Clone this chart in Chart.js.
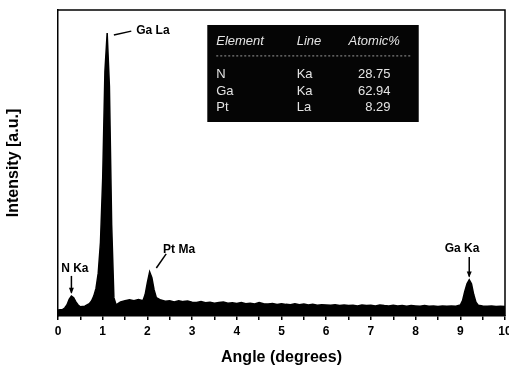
<!DOCTYPE html>
<html>
<head>
<meta charset="utf-8">
<script src="https://cdn.jsdelivr.net/npm/chart.js@4/dist/chart.umd.min.js"></script>
<style>
  html, body { margin: 0; padding: 0; background: #fff; }
  #wrap { width: 509px; height: 367px; }
</style>
</head>
<body>
<div id="wrap"><canvas id="eds-chart" width="509" height="367"></canvas></div>
<script>
// spectrum (x in degrees, y in a.u. with 100 = top of frame)
const angles = [
  0.0, 0.1, 0.15, 0.2, 0.25, 0.3, 0.35, 0.4, 0.45, 0.5, 0.55, 0.6, 0.65, 0.7, 0.75,
  0.8, 0.85, 0.9, 0.95, 1.0, 1.05, 1.1, 1.15, 1.2, 1.25, 1.3, 1.35, 1.4, 1.5, 1.6,
  1.7, 1.8, 1.9, 1.95, 2.0, 2.05, 2.1, 2.15, 2.2, 2.25, 2.3, 2.4, 2.5,
  2.6, 2.7, 2.8, 2.9, 3.0, 3.1, 3.2, 3.3, 3.4, 3.5, 3.6, 3.7, 3.8, 3.9,
  4.0, 4.1, 4.2, 4.3, 4.4, 4.5, 4.6, 4.7, 4.8, 4.9, 5.0, 5.1, 5.2, 5.3, 5.4, 5.5,
  5.6, 5.7, 5.8, 5.9, 6.0, 6.1, 6.2, 6.3, 6.4, 6.5, 6.6, 6.7, 6.8, 6.9, 7.0, 7.1,
  7.2, 7.3, 7.4, 7.5, 7.6, 7.7, 7.8, 7.9, 8.0, 8.1, 8.2, 8.3, 8.4, 8.5, 8.6, 8.7,
  8.8, 8.9, 9.0, 9.05, 9.1, 9.15, 9.2, 9.25, 9.3, 9.35, 9.4, 9.5, 9.6, 9.7, 9.8,
  9.9, 10.0
];
const intensity = [
  2.0, 2.1, 2.6, 3.6, 5.4, 6.5, 6.0, 4.6, 3.6, 3.0, 3.1, 3.2, 3.6, 4.0, 4.9,
  6.5, 9.0, 14.0, 24.0, 45.0, 80.0, 92.5, 75.0, 30.0, 6.0, 3.6, 4.1, 4.6, 5.0, 5.3,
  5.0, 5.4, 5.0, 7.0, 11.0, 14.4, 12.5, 8.5, 6.0, 5.6, 5.2, 4.8, 5.0,
  4.6, 5.0, 4.7, 4.9, 4.5, 4.4, 4.7, 4.3, 4.5, 4.2, 4.4, 4.6, 4.2, 4.3,
  4.1, 4.4, 4.0, 4.2, 3.9, 4.4, 4.0, 3.9, 4.1, 3.8, 4.0, 3.8, 3.7, 4.0, 3.7, 3.9,
  3.6, 3.8, 3.5, 3.7, 3.6, 3.5, 3.7, 3.4, 3.6, 3.4, 3.5, 3.3, 3.6, 3.4, 3.5, 3.3,
  3.6, 3.4, 3.3, 3.5, 3.3, 3.4, 3.2, 3.4, 3.3, 3.2, 3.4, 3.2, 3.3, 3.1, 3.3, 3.2,
  3.3, 3.2, 3.6, 5.0, 8.0, 10.5, 11.8, 10.5, 7.0, 4.5, 3.5, 3.3, 3.2, 3.3, 3.1,
  3.2, 3.1
];
const tickLabels = ["0", "1", "2", "3", "4", "5", "6", "7", "8", "9", "10"];

// peak labels: text, text anchor, pointer start/end, arrow head?
const peakLabels = [
  { text: "Ga La", x: 1.75, y: 93.1, from: [1.25, 91.8], to: [1.64, 93.1], arrow: false },
  { text: "N Ka", x: 0.07, y: 15.4, from: [0.3, 13.1], to: [0.3, 7.6], arrow: true },
  { text: "Pt Ma", x: 2.35, y: 21.6, from: [2.2, 15.7], to: [2.42, 20.3], arrow: false },
  { text: "Ga Ka", x: 8.65, y: 21.9, from: [9.2, 19.3], to: [9.2, 12.9], arrow: true }
];

// inset table
const tableHead = ["Element", "Line", "Atomic%"];
const tableElements = ["N", "Ga", "Pt"];
const tableLines = ["Ka", "Ka", "La"];
const tableAtomic = ["28.75", "62.94", "8.29"];

const points = angles.map((a, i) => ({ x: a, y: intensity[i] }));

const overlay = {
  id: "overlay",
  afterDraw(chart) {
    const ctx = chart.ctx;
    const xs = chart.scales.x;
    const ys = chart.scales.y;
    const area = chart.chartArea;
    const px = v => xs.getPixelForValue(v);
    const py = v => ys.getPixelForValue(v);
    ctx.save();

    // frame top and right
    ctx.strokeStyle = "#000";
    ctx.lineWidth = 1.5;
    ctx.beginPath();
    ctx.moveTo(area.left, area.top);
    ctx.lineTo(area.right, area.top);
    ctx.lineTo(area.right, area.bottom);
    ctx.stroke();

    // peak labels
    ctx.font = "bold 12px 'Liberation Sans', Arial, sans-serif";
    ctx.fillStyle = "#000";
    ctx.textBaseline = "middle";
    ctx.textAlign = "left";
    peakLabels.forEach(p => {
      ctx.fillText(p.text, px(p.x), py(p.y));
      const x1 = px(p.from[0]), y1 = py(p.from[1]);
      const x2 = px(p.to[0]), y2 = py(p.to[1]);
      ctx.lineWidth = 1.5;
      ctx.beginPath();
      ctx.moveTo(x1, y1);
      ctx.lineTo(x2, y2);
      ctx.stroke();
      if (p.arrow) {
        ctx.beginPath();
        ctx.moveTo(x2, y2 + 1);
        ctx.lineTo(x2 - 2.5, y2 - 5);
        ctx.lineTo(x2 + 2.5, y2 - 5);
        ctx.closePath();
        ctx.fill();
      }
    });

    // inset table
    const left = px(3.34), right = px(8.07), top = py(95.1), bottom = py(63.4);
    ctx.fillStyle = "#050505";
    ctx.fillRect(left, top, right - left, bottom - top);
    ctx.fillStyle = "#e4e4e4";
    ctx.font = "italic 13px 'Liberation Sans', Arial, sans-serif";
    ctx.textAlign = "left";
    ctx.fillText(tableHead[0], px(3.54), py(89.9));
    ctx.fillText(tableHead[1], px(5.34), py(89.9));
    ctx.fillText(tableHead[2], px(6.5), py(89.9));
    ctx.strokeStyle = "#9a9a9a";
    ctx.lineWidth = 1;
    ctx.setLineDash([2, 2]);
    ctx.beginPath();
    ctx.moveTo(px(3.54), py(85));
    ctx.lineTo(px(7.9), py(85));
    ctx.stroke();
    ctx.setLineDash([]);
    ctx.font = "13px 'Liberation Sans', Arial, sans-serif";
    const rowY = [79.1, 73.3, 68.0];
    tableElements.forEach((el, i) => {
      ctx.textAlign = "left";
      ctx.fillText(el, px(3.54), py(rowY[i]));
      ctx.fillText(tableLines[i], px(5.34), py(rowY[i]));
      ctx.textAlign = "right";
      ctx.fillText(tableAtomic[i], px(7.44), py(rowY[i]));
    });
    ctx.restore();
  }
};

const SPEC = document.getElementById("eds-chart");

let edsChart = new Chart(SPEC, {
  type: "line",
  data: {
    datasets: [
      {
        label: "EDS",
        data: points,
        borderColor: "#000",
        backgroundColor: "#000",
        borderWidth: 1.5,
        fill: "origin",
        pointRadius: 0,
        tension: 0,
      },
    ],
  },
  options: {
    responsive: false,
    animation: false,
    layout: { autoPadding: false, padding: { top: 10, right: 4, left: 0, bottom: 0 } },
    plugins: { legend: { display: false }, tooltip: { enabled: false } },
    scales: {
      x: {
        type: "linear",
        min: 0,
        max: 10,
        afterFit: s => { s.height = 51; s.paddingRight = 0; s.paddingLeft = 0; },
        ticks: {
          stepSize: 0.5,
          autoSkip: false,
          maxRotation: 0,
          color: "#000",
          padding: 4,
          font: { family: "'Liberation Sans', Arial, sans-serif", size: 12, weight: "bold" },
          callback: v => (Number.isInteger(v) ? tickLabels[v] : ""),
        },
        grid: { drawOnChartArea: false, color: "#000", tickLength: 4, lineWidth: 1.5 },
        border: { color: "#000", width: 1.5 },
        title: {
          display: true,
          text: "Angle (degrees)",
          color: "#000",
          padding: { top: 3, bottom: 0 },
          font: { family: "'Liberation Sans', Arial, sans-serif", size: 16, weight: "bold" },
        },
      },
      y: {
        min: 0,
        max: 100,
        afterFit: s => { s.width = 58; },
        ticks: { display: false },
        grid: { display: false },
        border: { color: "#000", width: 1.5 },
        title: {
          display: true,
          text: "Intensity [a.u.]",
          color: "#000",
          padding: { top: 4, bottom: 0 },
          font: { family: "'Liberation Sans', Arial, sans-serif", size: 16, weight: "bold" },
        },
      },
    },
  },
  plugins: [overlay],
});
</script>
</body>
</html>
